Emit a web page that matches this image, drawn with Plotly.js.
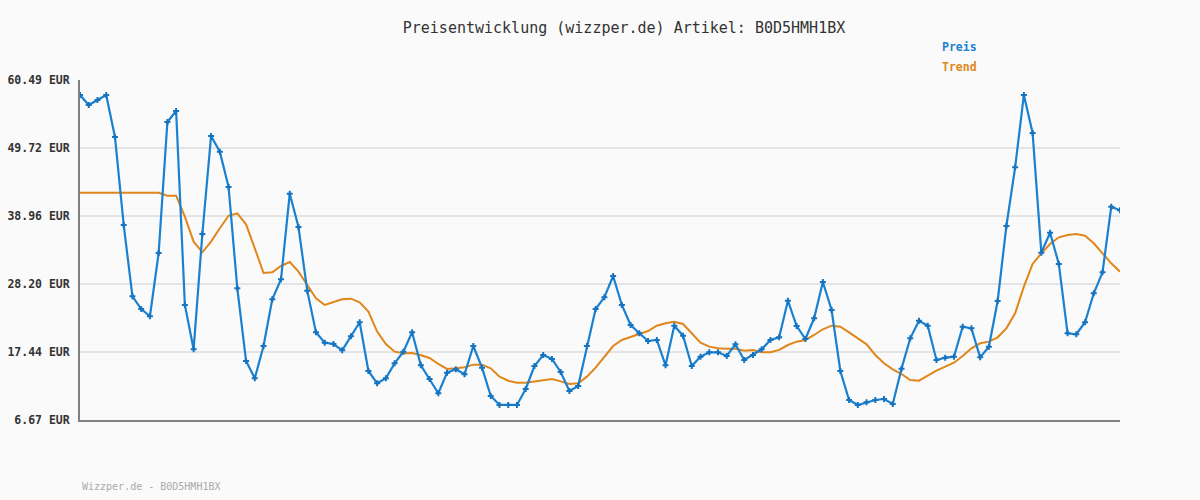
<!DOCTYPE html>
<html><head><meta charset="utf-8">
<script src="https://cdn.plot.ly/plotly-3.0.1.min.js"></script>
<style>html,body{margin:0;padding:0;background:#fafafa;}</style>
</head><body>
<div id="chart" style="width:1200px;height:500px;"></div>
<script>
const preis = [58.12,56.53,57.32,58.12,51.47,37.54,26.25,24.24,23.09,33.11,
53.84,55.58,24.88,17.86,36.11,51.63,49.14,43.55,27.52,16.01,
13.27,18.38,25.78,28.94,42.49,37.22,27.14,20.55,18.91,18.70,
17.70,19.92,22.14,14.43,12.48,13.27,15.64,17.49,20.55,15.33,
13.16,10.90,14.16,14.69,13.91,18.38,14.95,10.47,9.05,9.05,
9.05,11.58,15.22,16.96,16.33,14.27,11.26,12.05,18.38,24.24,
26.09,29.47,24.88,21.71,20.40,19.18,19.34,15.33,21.60,20.02,
15.22,16.69,17.39,17.39,16.80,18.65,16.17,16.96,17.86,19.34,
19.76,25.56,21.55,19.50,22.77,28.52,24.08,14.43,9.84,9.05,
9.47,9.84,9.99,9.21,14.80,19.60,22.39,21.60,16.17,16.54,
16.69,21.44,21.18,16.59,18.28,25.51,37.38,46.67,58.12,52.10,
33.16,36.32,31.37,20.40,20.24,22.14,26.73,30.05,40.44,39.86];
const trend = [42.65,42.65,42.65,42.65,42.65,42.65,42.65,42.65,42.65,42.65,
42.18,42.18,38.85,34.90,33.22,34.90,37.02,39.00,39.39,37.65,
33.85,29.94,30.05,31.05,31.68,30.15,28.04,25.94,24.88,25.30,
25.78,25.88,25.30,23.82,20.66,18.70,17.49,17.23,17.28,16.91,
16.49,15.54,14.75,14.85,15.01,15.43,15.43,14.85,13.53,12.89,
12.58,12.58,12.74,12.89,13.16,12.79,12.37,12.48,13.53,14.95,
16.69,18.38,19.34,19.86,20.29,20.76,21.60,21.98,22.23,21.87,
20.40,18.91,18.28,18.02,17.96,17.96,17.65,17.76,17.39,17.39,
17.76,18.54,19.07,19.34,20.13,21.03,21.60,21.44,20.55,19.60,
18.65,16.96,15.64,14.69,13.95,12.99,12.89,13.69,14.48,15.11,
15.74,16.80,18.02,18.81,19.07,19.76,21.18,23.56,27.77,31.37,
33.06,34.53,35.59,35.96,36.11,35.85,34.64,33.06,31.47,30.15];
const tickValues = [6.67,17.44,28.20,38.96,49.72,60.49];
const tickLabels = ["6.67 EUR","17.44 EUR","28.20 EUR","38.96 EUR","49.72 EUR","60.49 EUR"];
const titleText = "Preisentwicklung (wizzper.de) Artikel: B0D5HMH1BX";
const footerText = "Wizzper.de - B0D5HMH1BX";
const seriesNames = ["Preis","Trend"];

const idx = preis.map((_, i) => i);
const mono = "DejaVu Sans Mono, Liberation Mono, monospace";

const data = [
  {x: idx, y: trend, type: 'scatter', mode: 'lines', name: seriesNames[1],
   line: {color: '#e0861a', width: 2}, hoverinfo: 'skip'},
  {x: idx, y: preis, type: 'scatter', mode: 'lines+markers', name: seriesNames[0],
   line: {color: '#1a80d0', width: 2.2},
   marker: {symbol: 'cross', size: 5, color: '#1573c0'}}
];

const layout = {
  width: 1200, height: 500,
  paper_bgcolor: '#fafafa', plot_bgcolor: '#fafafa',
  margin: {l: 80, r: 80, t: 80, b: 80},
  showlegend: false,
  title: {text: titleText, x: 0.52, xanchor: 'center', y: 0.944, yanchor: 'middle',
          font: {family: mono, size: 15, color: '#333'}},
  xaxis: {range: [0, preis.length - 1], showgrid: false, zeroline: false,
          showticklabels: false, ticks: '', showline: true, linecolor: '#808080', linewidth: 2},
  yaxis: {range: [6.67, 60.49], tickvals: tickValues, ticktext: tickLabels,
          showgrid: true, gridcolor: '#e4e4e4', gridwidth: 2, zeroline: false,
          showline: true, linecolor: '#808080', linewidth: 2, ticks: '',
          ticklabelstandoff: 6,
          tickfont: {family: mono, size: 11.5, color: '#333', weight: 'bold'}},
  annotations: [
    {text: '<b>' + seriesNames[0] + '</b>', xref: 'paper', yref: 'paper', x: 0.827, y: 1.097,
     xanchor: 'left', yanchor: 'middle', showarrow: false,
     font: {family: mono, size: 11.5, color: '#1a80d0'}},
    {text: '<b>' + seriesNames[1] + '</b>', xref: 'paper', yref: 'paper', x: 0.827, y: 1.038,
     xanchor: 'left', yanchor: 'middle', showarrow: false,
     font: {family: mono, size: 11.5, color: '#e0861a'}},
    {text: footerText, xref: 'paper', yref: 'paper', x: 0, y: -0.197,
     xanchor: 'left', yanchor: 'middle', showarrow: false,
     font: {family: mono, size: 10, color: '#aaaaaa'}}
  ]
};

Plotly.newPlot('chart', data, layout, {displayModeBar: false, staticPlot: true});
</script>
</body></html>
